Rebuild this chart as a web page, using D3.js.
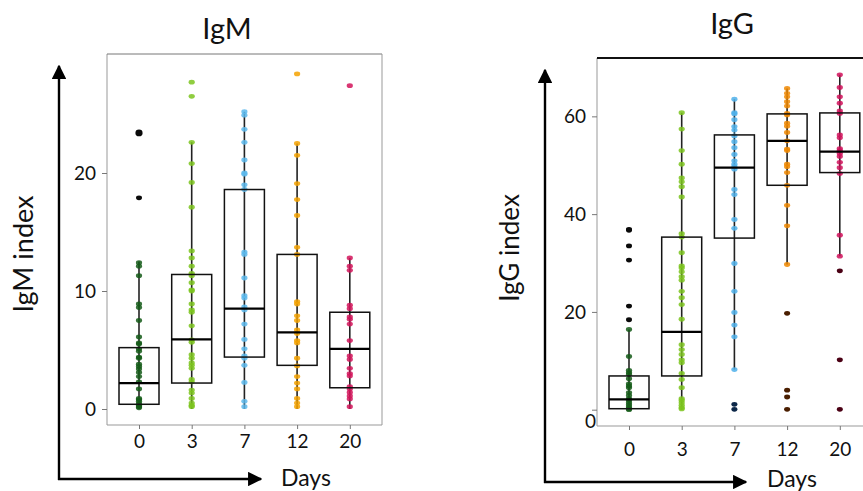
<!DOCTYPE html>
<html lang="en">
  <head>
    <meta charset="UTF-8" />
    <title>IgM / IgG</title>
    <style>
      body { margin: 0; background: #fff; }
      text { font-family: Lato, "Open Sans", sans-serif; fill: #111; }
    </style>
  </head>
  <body>
    <svg id="svg" width="863" height="491"></svg>

    <script src="https://cdn.jsdelivr.net/npm/d3@7"></script>
    <script>
      const days = ["0", "3", "7", "12", "20"];
      const colors = ["#145a18", "#7cc41e", "#5cb9ec", "#f4a200", "#d2145a"];
      const igGColors = ["#145a18", "#7cc41e", "#4fb0ea", "#f08800", "#d0105a"];
      const darkColors = ["#0a0a0a", "#2f5a08", "#0c2748", "#4a1e00", "#4a0014"];

      // IgM
      const igmTicks = [0, 10, 20];
      const igmQ1 = [0.4, 2.2, 4.4, 3.7, 1.8];
      const igmMedian = [2.2, 5.9, 8.5, 6.5, 5.1];
      const igmQ3 = [5.2, 11.4, 18.6, 13.1, 8.2];
      const igmLow = [0, 0, 0, 0, 0];
      const igmHigh = [12.5, 22.6, 25.2, 22.5, 12.8];
      const igmPoints = [
        [12.4, 12.1, 11.3, 8.9, 8.6, 7.5, 6.1, 5.6, 5.5, 5.1, 4.9, 4.4, 4.3, 3.8, 3.6, 3.4, 3.1, 2.75, 2.3, 1.7, 0.9, 0.8, 0.65, 0.45, 0.3, 0.2, 0.1],
        [27.7, 26.5, 22.6, 20.8, 19.2, 17.1, 13.4, 12.8, 12.1, 11.5, 11.3, 10.7, 10.1, 10.0, 8.9, 8.4, 8.2, 7.05, 5.85, 5.65, 4.6, 4.3, 3.9, 3.7, 3.45, 2.5, 2.3, 1.6, 1.35, 0.9, 0.5, 0.3, 0.2],
        [25.2, 24.9, 23.7, 22.6, 21.1, 20.0, 19.9, 19.0, 18.6, 13.3, 13.1, 11.1, 9.6, 9.4, 8.65, 8.4, 7.2, 5.9, 5.1, 4.5, 4.3, 3.7, 2.25, 0.65, 0.2],
        [28.4, 22.5, 21.5, 19.1, 17.75, 16.4, 13.7, 13.1, 9.1, 8.9, 7.9, 7.5, 6.7, 6.4, 5.8, 5.6, 4.3, 3.65, 2.75, 2.2, 1.7, 0.9, 0.5, 0.2],
        [27.4, 12.8, 12.1, 11.75, 8.8, 8.5, 7.8, 7.6, 7.2, 5.8, 4.5, 4.2, 3.45, 3.0, 2.8, 1.9, 1.7, 1.4, 1.1, 0.85, 0.2]
      ];
      const igmDark = [[23.4, 17.9], [], [], [], []];

      // IgG
      const iggTicks = [0, 20, 40, 60];
      const iggQ1 = [0.2, 6.9, 35.1, 45.9, 48.5];
      const iggMedian = [2.1, 15.9, 49.5, 55.0, 52.8];
      const iggQ3 = [6.9, 35.3, 56.2, 60.5, 60.7];
      const iggLow = [0, 0, 8.2, 29.7, 31.4];
      const iggHigh = [16.4, 60.75, 63.5, 65.7, 68.5];
      const iggPoints = [
        [16.4, 10.9, 8.05, 7.6, 7.2, 6.35, 5.3, 4.85, 4.5, 3.5, 2.9, 2.25, 1.9, 1.4, 1.0, 0.55, 0.2, 0],
        [60.75, 57.4, 53.0, 50.2, 47.4, 46.6, 45.6, 43.5, 36.0, 35.3, 32.1, 29.4, 29.0, 28.2, 27.2, 26.5, 24.2, 22.9, 21.5, 18.5, 13.3, 12.3, 11.3, 10.2, 9.6, 7.4, 6.2, 4.5, 2.25, 1.9, 1.4, 0.9, 0.4, 0.15],
        [63.5, 60.75, 60.5, 59.3, 57.9, 57.2, 56.0, 54.8, 53.6, 52.2, 50.9, 50.2, 49.7, 49.2, 45.05, 44.0, 38.9, 37.1, 29.9, 24.2, 19.9, 17.3, 14.9, 8.2],
        [65.7, 64.7, 64.0, 63.0, 62.1, 60.6, 60.3, 58.6, 58.0, 56.7, 55.0, 53.3, 53.0, 50.2, 49.7, 48.5, 45.9, 41.8, 37.6, 29.7],
        [68.5, 65.9, 64.0, 62.7, 61.1, 60.6, 56.2, 55.6, 53.4, 53.0, 52.4, 51.8, 50.6, 49.5, 48.3, 35.7, 31.4]
      ];
      const iggDark = [[36.9, 36.7, 33.5, 30.6, 21.2, 18.4], [], [1.1, 0.07], [19.7, 4.0, 2.6, 0.07], [28.4, 10.2, 0.07]];

      const svg = d3.select("#svg");
      svg.append("defs").append("marker")
        .attr("id", "arrow")
        .attr("viewBox", "0 0 10 10")
        .attr("refX", 9).attr("refY", 5)
        .attr("markerWidth", 6).attr("markerHeight", 6)
        .attr("markerUnits", "strokeWidth")
        .attr("orient", "auto")
        .append("path").attr("d", "M0,0L10,5L0,10Z").attr("fill", "#000");

      const STEP = 52.7;

      function drawPanel(p) {
        const g = svg.append("g");
        const x = d3.scalePoint().domain(days).range([p.left + 32, p.left + 32 + STEP * (days.length - 1)]);
        const y = d3.scaleLinear().domain(p.domain).range([p.bottom, p.top]);
        const BOX_W = 40;

        // frame
        g.append("line").attr("x1", p.left).attr("x2", p.left).attr("y1", p.top).attr("y2", p.bottom)
          .attr("stroke", "#999").attr("stroke-width", 1);
        g.append("line").attr("x1", p.left).attr("x2", p.right).attr("y1", p.bottom).attr("y2", p.bottom)
          .attr("stroke", "#999").attr("stroke-width", 1);
        g.append("line").attr("x1", p.left).attr("x2", p.right).attr("y1", p.top).attr("y2", p.top)
          .attr("stroke", p.topColor).attr("stroke-width", p.topWidth);
        if (p.rightLine) {
          g.append("line").attr("x1", p.right).attr("x2", p.right).attr("y1", p.top).attr("y2", p.bottom)
            .attr("stroke", "#999").attr("stroke-width", 1);
        }

        // axes
        const yAxis = g.append("g").attr("transform", `translate(${p.left},0)`)
          .call(d3.axisLeft(y).tickValues(p.ticks).tickSize(5).tickPadding(6));
        yAxis.select(".domain").remove();
        yAxis.selectAll(".tick line").attr("stroke", "#777");
        yAxis.selectAll(".tick text").style("font-size", "19px").attr("fill", "#111");
        if (p.zeroShift) {
          yAxis.selectAll(".tick text").filter((d) => d === 0)
            .attr("x", -1).attr("dy", p.zeroShift);
        }

        const xAxis = g.append("g").attr("transform", `translate(0,${p.bottom})`)
          .call(d3.axisBottom(x).tickSize(4).tickPadding(p.xPad));
        xAxis.select(".domain").remove();
        xAxis.selectAll(".tick line").attr("stroke", "#777");
        xAxis.selectAll(".tick text").style("font-size", "19px").attr("fill", "#111");

        // whiskers
        g.selectAll(".whisker").data(days).enter().append("line")
          .attr("x1", (d) => x(d)).attr("x2", (d) => x(d))
          .attr("y1", (d, i) => y(p.low[i])).attr("y2", (d, i) => y(p.high[i]))
          .attr("stroke", "#222").attr("stroke-width", 1.6);

        // points (slightly flattened dots like the original)
        days.forEach((d, i) => {
          g.append("g").selectAll("ellipse").data(p.points[i]).enter().append("ellipse")
            .attr("cx", x(d)).attr("cy", (v) => y(v)).attr("rx", 3.1).attr("ry", 2.4)
            .attr("fill", p.colors[i]).attr("fill-opacity", 0.85);
          g.append("g").selectAll("ellipse").data(p.dark[i]).enter().append("ellipse")
            .attr("cx", x(d)).attr("cy", (v) => y(v))
            .attr("rx", (v, k) => (p.bigFirst && i === 0 && k === 0 ? 3.6 : 3.0))
            .attr("ry", (v, k) => (p.bigFirst && i === 0 && k === 0 ? 3.4 : 2.4))
            .attr("fill", darkColors[i]);
        });

        // boxes
        g.selectAll(".box").data(days).enter().append("rect")
          .attr("x", (d) => x(d) - BOX_W / 2).attr("width", BOX_W)
          .attr("y", (d, i) => y(p.q3[i]))
          .attr("height", (d, i) => y(p.q1[i]) - y(p.q3[i]))
          .attr("fill", "none").attr("stroke", "#111").attr("stroke-width", 1.5);
        g.selectAll(".median").data(days).enter().append("line")
          .attr("x1", (d) => x(d) - BOX_W / 2).attr("x2", (d) => x(d) + BOX_W / 2)
          .attr("y1", (d, i) => y(p.median[i])).attr("y2", (d, i) => y(p.median[i]))
          .attr("stroke", "#000").attr("stroke-width", 2.2);

        // titles and arrows
        g.append("text").attr("x", p.titleX).attr("y", p.titleY).attr("text-anchor", "middle")
          .style("font-size", "29px").text(p.title);
        g.append("text").attr("transform", `translate(${p.ylabX},${p.ylabY}) rotate(-90)`)
          .attr("text-anchor", "middle").style("font-size", p.ylabSize).text(p.ylab);
        g.append("text").attr("x", p.daysX).attr("y", p.daysY).style("font-size", "23px").text("Days");

        g.append("line").attr("x1", p.arrowX).attr("x2", p.arrowX)
          .attr("y1", p.arrowY + 1).attr("y2", p.arrowTop)
          .attr("stroke", "#000").attr("stroke-width", 2.4).attr("marker-end", "url(#arrow)");
        g.append("line").attr("x1", p.arrowX - 1).attr("x2", p.arrowRight)
          .attr("y1", p.arrowY).attr("y2", p.arrowY)
          .attr("stroke", "#000").attr("stroke-width", 2.4).attr("marker-end", "url(#arrow)");
      }

      drawPanel({
        left: 107, right: 382, top: 54, bottom: 425,
        domain: [-16 / 11.8, 355 / 11.8], ticks: igmTicks,
        q1: igmQ1, median: igmMedian, q3: igmQ3, low: igmLow, high: igmHigh,
        points: igmPoints, dark: igmDark, colors: colors, bigFirst: true,
        topColor: "#777", topWidth: 1, rightLine: true, xPad: 6,
        title: "IgM", titleX: 227, titleY: 39,
        ylab: "IgM index", ylabX: 33, ylabY: 254, ylabSize: "27px",
        daysX: 281, daysY: 486,
        arrowX: 59, arrowY: 479, arrowTop: 66, arrowRight: 261
      });

      drawPanel({
        left: 597, right: 863, top: 58, bottom: 426,
        domain: [-16.3 / 4.885, 351.4 / 4.885], ticks: iggTicks,
        q1: iggQ1, median: iggMedian, q3: iggQ3, low: iggLow, high: iggHigh,
        points: iggPoints, dark: iggDark, colors: igGColors, bigFirst: false,
        topColor: "#111", topWidth: 2, rightLine: false, xPad: 13, zeroShift: "0.95em",
        title: "IgG", titleX: 732, titleY: 34,
        ylab: "IgG index", ylabX: 519, ylabY: 248, ylabSize: "26px",
        daysX: 767, daysY: 487,
        arrowX: 545, arrowY: 482, arrowTop: 70, arrowRight: 746
      });
    </script>
  </body>
</html>
